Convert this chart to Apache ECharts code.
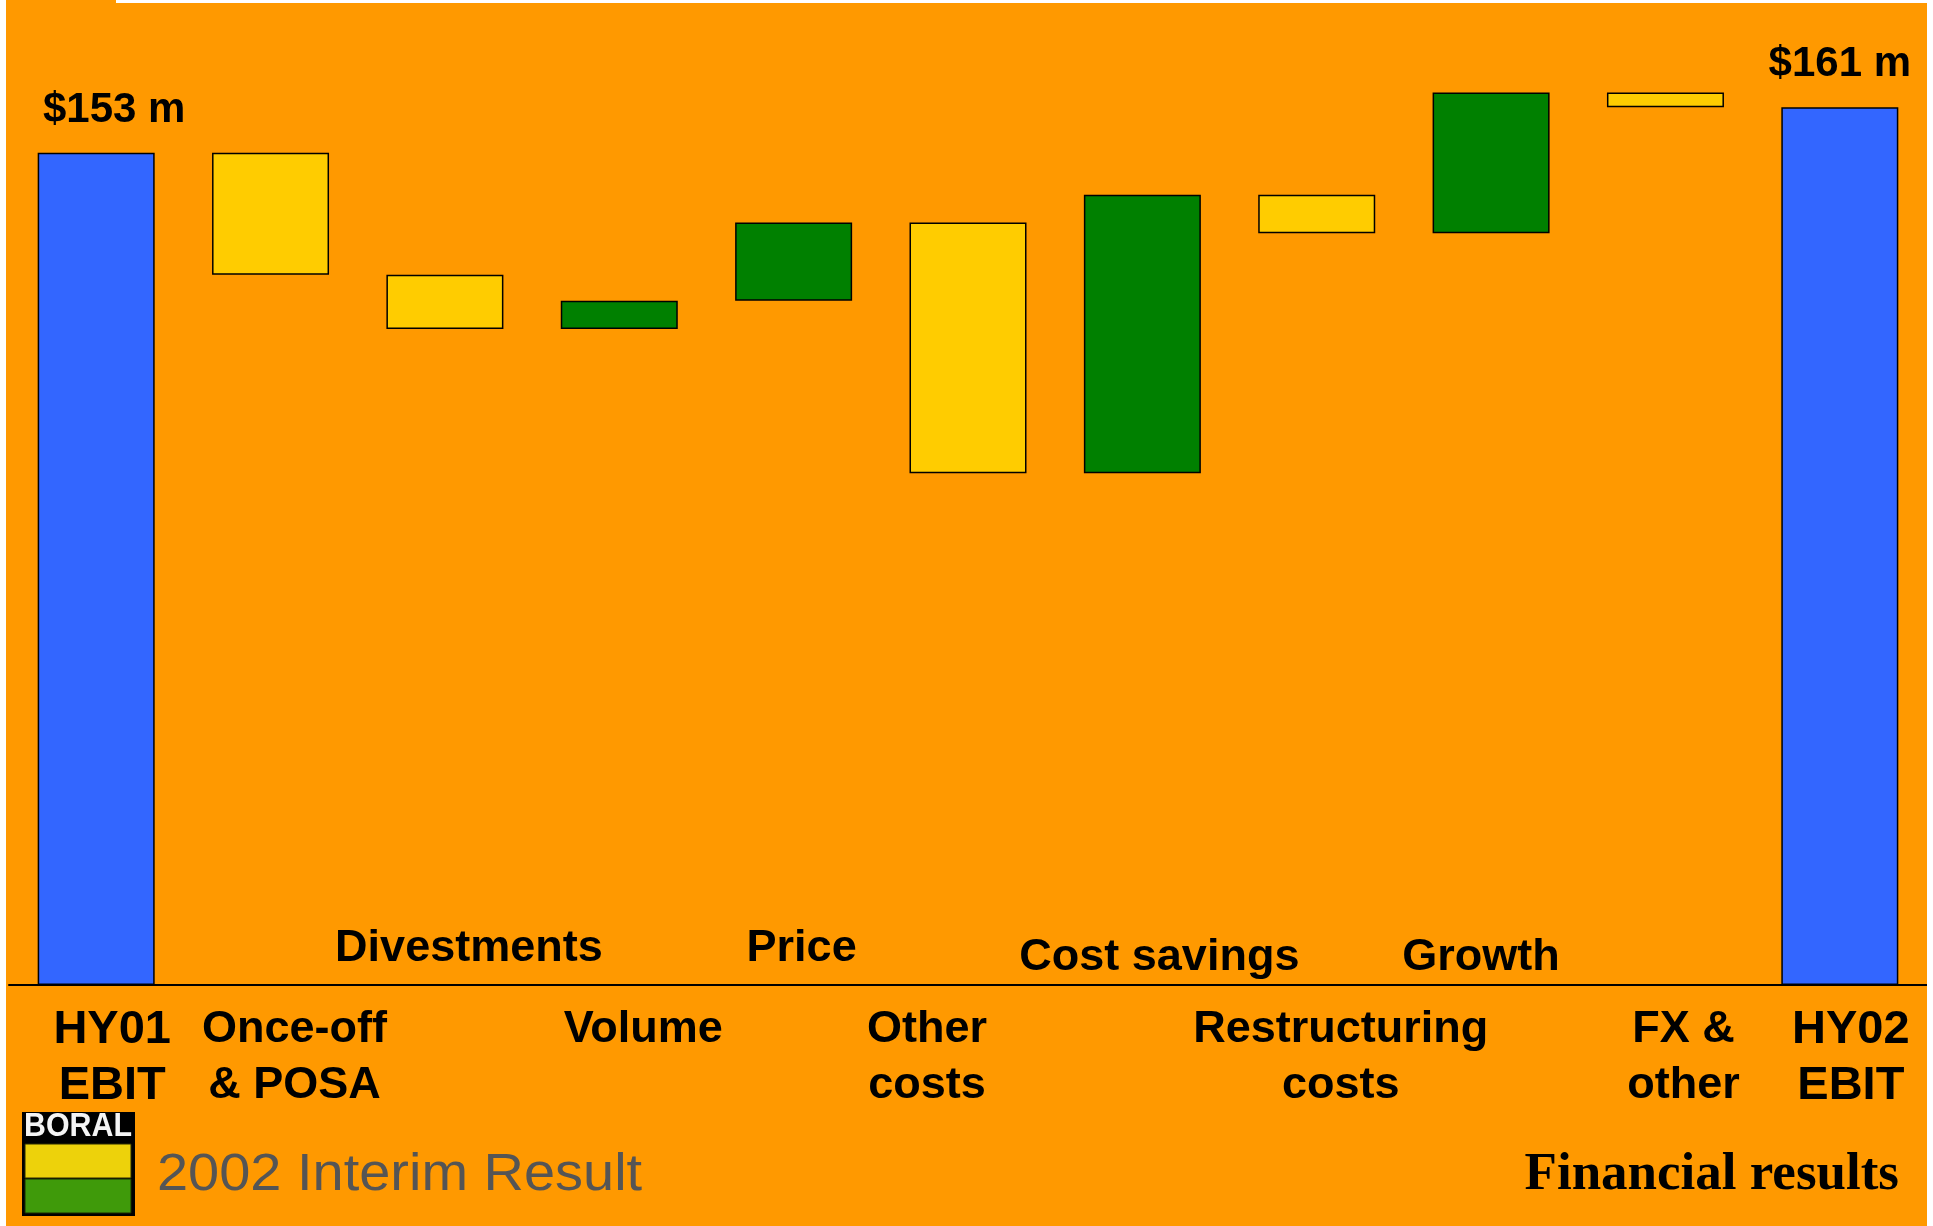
<!DOCTYPE html>
<html>
<head>
<meta charset="utf-8">
<title>EBIT bridge HY01 to HY02</title>
<script src="https://cdn.jsdelivr.net/npm/echarts@6/dist/echarts.min.js"></script>
<style>
  html, body { margin: 0; padding: 0; background: #fff; }
  #chart { width: 1933px; height: 1226px; }
</style>
</head>
<body>
<div id="chart"></div>
<script>
// data ($m)
const categories = ['HY01\nEBIT', 'Once-off\n& POSA', 'Divestments', 'Volume', 'Price',
  'Other\ncosts', 'Cost savings', 'Restructuring\ncosts', 'Growth', 'FX &\nother', 'HY02\nEBIT']
const startEbit = 153
const changes = [-22.4, -10.0, 5.2, 14.4, -46.1, 51.2, -7.1, 25.9, -2.7]

// labels for Divestments / Price / Cost savings / Growth sit above the axis
const aboveAxis = i => i > 0 && i < categories.length - 1 && i % 2 === 0

// small horizontal nudges (px) so the labels sit like on the slide
const labelShift = [16, 24, 24, 24, 8, -41, 17, 24, -10, 18, 11]

const FONT = '"Liberation Sans", Arial, sans-serif'

// waterfall pieces
const base = ['-']
const totals = [startEbit]
const rises = ['-']
const falls = ['-']
let level = startEbit
changes.forEach(c => {
  const next = level + c
  base.push(Math.min(level, next))
  rises.push(c > 0 ? c : '-')
  falls.push(c < 0 ? -c : '-')
  totals.push('-')
  level = next
})
base.push('-')
rises.push('-')
falls.push('-')
totals.push(+level.toFixed(1))

// rich styles per category (shift + size)
const rich = {}
categories.forEach((c, i) => {
  const s = labelShift[i]
  const isTotal = i === 0 || i === categories.length - 1
  const st = {
    fontFamily: FONT,
    fontWeight: 'bold',
    color: '#000',
    fontSize: isTotal ? 47 : 45,
    lineHeight: 56,
    padding: s >= 0 ? [0, 0, 0, 2 * s] : [0, -2 * s, 0, 0]
  }
  if (aboveAxis(i)) {
    st.fontSize = 45
    st.lineHeight = (i === 2 || i === 4) ? 64 : 45
  }
  rich['c' + i] = st
})

const fmt = show => (value, index) => {
  if (show(index) === false) return ''
  return value.split('\n').map(l => '{c' + index + '|' + l + '}').join('\n')
}

const chart = echarts.init(document.getElementById('chart'))

const barStyle = color => ({
  color: color,
  borderColor: '#000',
  borderWidth: 1.5
})

chart.setOption({
  animation: false,
  backgroundColor: '#FF9900',
  grid: { left: 9, right: 6, top: 6, bottom: 241 },
  xAxis: [
    {
      type: 'category',
      data: categories,
      axisLine: { lineStyle: { color: '#000', width: 2 } },
      axisTick: { length: 6, lineStyle: { color: '#000', width: 1 } },
      axisLabel: {
        interval: 0,
        margin: 17,
        fontFamily: FONT,
        fontWeight: 'bold',
        fontSize: 45,
        lineHeight: 56,
        color: '#000',
        formatter: fmt(i => !aboveAxis(i)),
        rich: rich
      }
    },
    {
      type: 'category',
      data: categories,
      position: 'bottom',
      axisLine: { show: false },
      axisTick: { show: false },
      axisLabel: {
        inside: true,
        interval: 0,
        margin: 4.5,
        fontFamily: FONT,
        fontWeight: 'bold',
        fontSize: 45,
        color: '#000',
        formatter: fmt(i => aboveAxis(i)),
        rich: rich
      }
    }
  ],
  yAxis: {
    type: 'value',
    min: 0,
    max: 180,
    show: false,
    splitLine: { show: false }
  },
  series: [
    {
      name: 'base',
      type: 'bar',
      stack: 'wf',
      barWidth: 117,
      silent: true,
      itemStyle: { color: 'transparent', borderWidth: 0 },
      data: base
    },
    {
      name: 'total',
      type: 'bar',
      stack: 'wf',
      barWidth: 117,
      itemStyle: barStyle('#3366FF'),
      label: {
        show: true,
        position: 'top',
        distance: 21,
        fontFamily: FONT,
        fontWeight: 'bold',
        fontSize: 42,
        lineHeight: 43,
        color: '#000',
        formatter: p => '$' + Math.round(p.value) + ' m'
      },
      data: totals.map((v, i) => {
        if (v === '-') return v
        return { value: v, label: { offset: i === 0 ? [18, 0] : [0, 0] } }
      })
    },
    {
      name: 'increase',
      type: 'bar',
      stack: 'wf',
      barWidth: 117,
      itemStyle: barStyle('#008000'),
      data: rises
    },
    {
      name: 'decrease',
      type: 'bar',
      stack: 'wf',
      barWidth: 117,
      itemStyle: barStyle('#FFCC00'),
      data: falls
    }
  ],
  graphic: [
    // white page margins
    { type: 'rect', shape: { x: 0, y: 0, width: 6, height: 1226 }, style: { fill: '#fff' }, z: 100 },
    { type: 'rect', shape: { x: 1927, y: 0, width: 6, height: 1226 }, style: { fill: '#fff' }, z: 100 },
    { type: 'rect', shape: { x: 116, y: 0, width: 1817, height: 3 }, style: { fill: '#fff' }, z: 100 },
    // Boral logo
    { type: 'rect', shape: { x: 22, y: 1112, width: 113, height: 104 }, style: { fill: '#000' }, z: 100 },
    {
      type: 'text', z: 101, x: 78, y: 1127, scaleX: 0.92,
      style: { x: 0, y: 0, text: 'BORAL', fill: '#f4f4f4', fontFamily: FONT, fontWeight: 'bold',
        fontSize: 33, align: 'center', verticalAlign: 'middle' }
    },
    { type: 'rect', shape: { x: 25, y: 1144, width: 106, height: 34 }, style: { fill: '#EDD20B', stroke: '#2a2a00', lineWidth: 1 }, z: 101 },
    { type: 'rect', shape: { x: 25, y: 1179, width: 106, height: 34 }, style: { fill: '#3F9A0A', stroke: '#1a2a00', lineWidth: 1 }, z: 101 },
    // footer
    {
      type: 'text', z: 100, x: 157, y: 1176, scaleX: 1.097,
      style: { x: 0, y: 0, text: '2002 Interim Result', fill: '#555555', fontFamily: FONT,
        fontSize: 51, align: 'left', verticalAlign: 'middle' }
    },
    {
      type: 'text', z: 100,
      style: { x: 1899, y: 1175.5, text: 'Financial results', fill: '#000',
        fontFamily: '"Liberation Serif", "Times New Roman", serif', fontWeight: 'bold',
        fontSize: 53, align: 'right', verticalAlign: 'middle' }
    }
  ]
})
</script>
</body>
</html>
